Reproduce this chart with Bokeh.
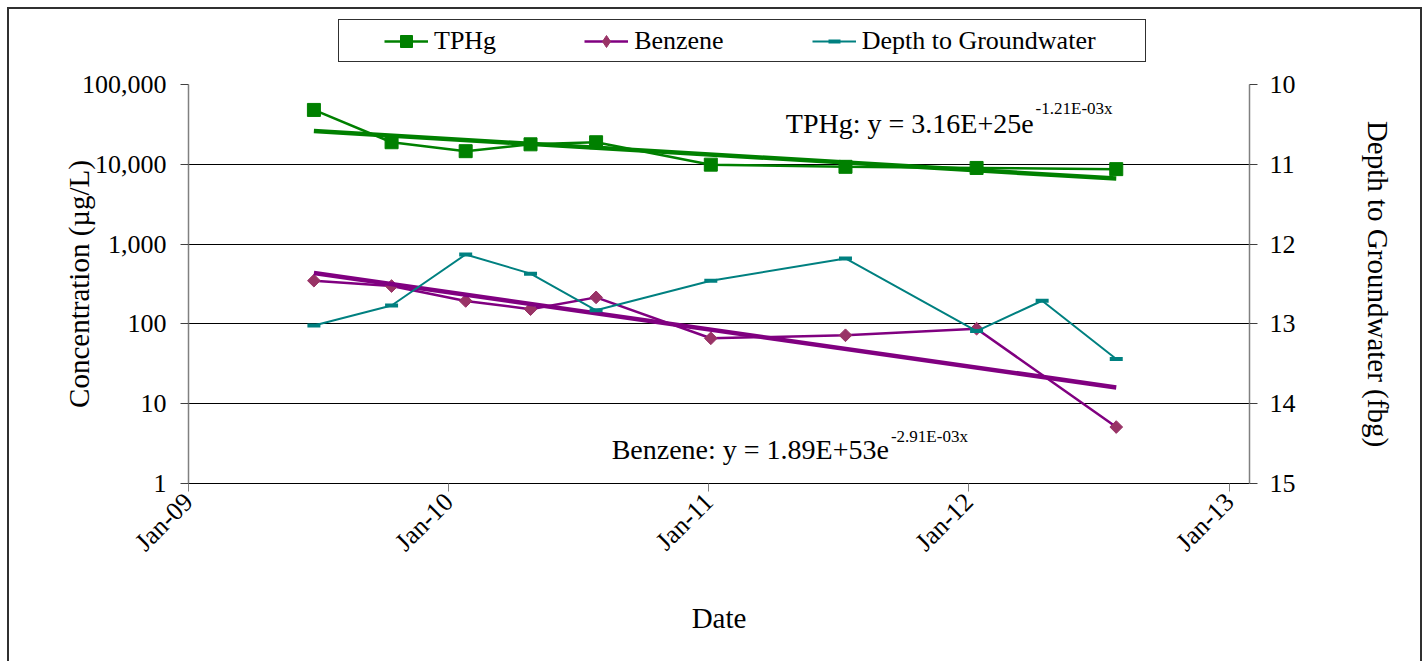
import math
import pandas as pd
from bokeh.plotting import figure
from bokeh.layouts import column
from bokeh.models import (Range1d, LinearAxis, LinearScale, FixedTicker, NumeralTickFormatter,
                          DatetimeTickFormatter, Legend, LegendItem, Label)
from bokeh.embed import file_html
from bokeh.resources import INLINE

# ---------------- data ----------------
sample_dates = ["2009-06-26", "2009-10-13", "2010-01-25", "2010-04-26", "2010-07-27",
                "2011-01-04", "2011-07-12", "2012-01-12", "2012-07-26"]
tphg = [48000, 18900, 14600, 17800, 18900, 9900, 9300, 9000, 8700]
benzene = [348, 298, 194, 153, 215, 66, 72, 87, 5.1]

depth_dates = ["2009-06-26", "2009-10-13", "2010-01-25", "2010-04-26", "2010-07-27",
               "2011-01-04", "2011-07-12", "2012-01-12", "2012-04-13", "2012-07-26"]
depth = [13.02, 12.77, 12.13, 12.37, 12.83, 12.46, 12.18, 13.09, 12.71, 13.44]

trend_dates = ["2009-06-26", "2012-07-26"]
tphg_trend = [26100, 6620]
benzene_trend = [434, 16.0]

conc_ticks = [1, 10, 100, 1000, 10000, 100000]
depth_ticks = [10, 11, 12, 13, 14, 15]
date_ticks = ["2009-01-01", "2010-01-01", "2011-01-01", "2012-01-01", "2013-01-01"]
x_start, x_end = "2009-01-01", "2013-01-29"

tphg_eq = ("TPHg: y = 3.16E+25e", "-1.21E-03x")
benzene_eq = ("Benzene: y = 1.89E+53e", "-2.91E-03x")
legend_labels = ["TPHg", "Benzene", "Depth to Groundwater"]

# ---------------- helpers ----------------
sd = pd.to_datetime(sample_dates)
dd = pd.to_datetime(depth_dates)
td = pd.to_datetime(trend_dates)
def ms(s):
    return pd.Timestamp(s).value / 1e6

FONT = "Liberation Serif"
GREEN = "#008000"
PURPLE = "#800080"
MAROON = "#993366"
TEAL = "#008080"

W, H = 1422, 661
TOP_H = 62          # height of the legend strip
FRAME_TOP, FRAME_BOTTOM, FRAME_LEFT, FRAME_RIGHT = 84, 483, 188, 1249

top_css = """
:host::before {
  content: ""; position: absolute; left: 7px; top: 7px; right: 0px; bottom: 0px;
  border: 2px solid #303030; border-bottom: none; pointer-events: none; z-index: 10;
}
:host::after {
  content: ""; position: absolute; left: 338px; top: 19px; width: 808px; height: 43px;
  box-sizing: border-box; border: 1.3px solid #303030; pointer-events: none; z-index: 10;
}
"""
main_css = """
:host::before {
  content: ""; position: absolute; left: 7px; top: 0px; right: 0px; bottom: 0px;
  border-left: 2px solid #303030; border-right: 2px solid #303030;
  pointer-events: none; z-index: 10;
}
"""

# ---------------- legend strip ----------------
pt = figure(width=W, height=TOP_H, output_backend="svg", toolbar_location=None,
            x_axis_type="datetime", y_axis_type="log",
            x_range=Range1d(ms(x_start), ms(x_end)), y_range=Range1d(1, 100000),
            x_axis_location=None, y_axis_location=None,
            min_border=0, min_border_left=0, min_border_right=0,
            min_border_top=0, min_border_bottom=0)
pt.stylesheets = [top_css]
pt.outline_line_color = None
pt.grid.grid_line_color = None
pt.background_fill_color = "white"
pt.border_fill_color = "white"

lt1 = pt.line(sd, tphg, line_color=GREEN, line_width=2.5, visible=False)
lt2 = pt.scatter(sd, tphg, marker="square", fill_color=GREEN, line_color=GREEN, visible=False)
lb1 = pt.line(sd, benzene, line_color=PURPLE, line_width=2.5, visible=False)
lb2 = pt.scatter(sd, benzene, marker="diamond", fill_color=MAROON, line_color=MAROON,
                 visible=False)
ld1 = pt.line(dd, depth, line_color=TEAL, line_width=2, visible=False)
ld2 = pt.scatter(dd, depth, marker="dash", line_color=TEAL, line_width=4, visible=False)

# the strip's frame is aligned with the main chart's frame (left edge at FRAME_LEFT)
legend = Legend(items=[LegendItem(label=legend_labels[0], renderers=[lt1, lt2]),
                       LegendItem(label=legend_labels[1], renderers=[lb1, lb2]),
                       LegendItem(label=legend_labels[2], renderers=[ld1, ld2])],
                orientation="horizontal", location=(384 - FRAME_LEFT, 6), click_policy="none",
                padding=0, margin=0, spacing=88, glyph_width=44, glyph_height=30,
                label_height=30, label_standoff=6,
                label_text_font=FONT, label_text_font_size="26px",
                label_text_color="black",
                border_line_color=None, background_fill_alpha=0)
pt.add_layout(legend, "center")

# ---------------- main chart ----------------
MH = H - TOP_H
p = figure(width=W, height=MH, output_backend="svg", toolbar_location=None,
           x_axis_type="datetime", y_axis_type="log",
           x_range=Range1d(ms(x_start), ms(x_end)),
           y_range=Range1d(1, 100000),
           min_border_left=FRAME_LEFT, min_border_right=W - FRAME_RIGHT,
           min_border_top=FRAME_TOP - TOP_H, min_border_bottom=H - FRAME_BOTTOM)
p.stylesheets = [main_css]
p.extra_y_ranges = {"depth": Range1d(start=15, end=10)}
p.extra_y_scales = {"depth": LinearScale()}
p.outline_line_color = None
p.background_fill_color = "white"
p.border_fill_color = "white"

p.xgrid.grid_line_color = None
p.ygrid.grid_line_color = "black"
p.ygrid.grid_line_width = 1
p.ygrid.ticker = FixedTicker(ticks=conc_ticks)

def style_axis(ax):
    ax.major_tick_out = 8
    ax.major_tick_in = 0
    ax.minor_tick_line_color = None
    ax.major_label_text_font = FONT
    ax.major_label_text_font_size = "26px"
    ax.major_label_text_color = "black"
    ax.axis_label_text_font = FONT
    ax.axis_label_text_font_size = "29px"
    ax.axis_label_text_font_style = "normal"
    ax.axis_label_text_color = "black"

ya = p.yaxis[0]
style_axis(ya)
ya.ticker = FixedTicker(ticks=conc_ticks)
ya.formatter = NumeralTickFormatter(format="0,0")
ya.axis_line_color = "#808080"
ya.axis_line_width = 1.5
ya.major_tick_line_color = "#404040"
ya.major_label_standoff = 14
ya.axis_label = "Concentration (µg/L)"
ya.axis_label_standoff = -16

xa = p.xaxis[0]
style_axis(xa)
xa.ticker = FixedTicker(ticks=[ms(d) for d in date_ticks])
xa.formatter = DatetimeTickFormatter(days="%b-%y", months="%b-%y", years="%b-%y")
xa.axis_line_color = "black"
xa.axis_line_width = 1
xa.major_tick_line_color = "#808080"
xa.major_label_orientation = math.pi / 4
xa.major_label_standoff = 6
xa.axis_label = "Date"
xa.axis_label_standoff = 32

ra = LinearAxis(y_range_name="depth", ticker=FixedTicker(ticks=depth_ticks))
style_axis(ra)
ra.axis_line_color = "#808080"
ra.axis_line_width = 1.5
ra.major_tick_line_color = "#404040"
ra.major_label_standoff = 12
ra.axis_label = "Depth to Groundwater (fbg)"
ra.axis_label_standoff = 63
p.add_layout(ra, "right")

p.line(sd, tphg, line_color=GREEN, line_width=2.5)
p.scatter(sd, tphg, marker="square", size=13, fill_color=GREEN, line_color=GREEN)
p.line(td, tphg_trend, line_color=GREEN, line_width=4.5)

p.line(sd, benzene, line_color=PURPLE, line_width=2.5)
p.scatter(sd, benzene, marker="square", angle=math.pi / 4, size=9,
          fill_color=MAROON, line_color=MAROON)
p.line(td, benzene_trend, line_color=PURPLE, line_width=4.5)

p.line(dd, depth, line_color=TEAL, line_width=2, y_range_name="depth")
p.scatter(dd, depth, marker="dash", size=13, line_color=TEAL, line_width=4,
          y_range_name="depth")

for (base, sup), xd, yb, ys in [(tphg_eq, "2012-04-01", 32500, 49400),
                                (benzene_eq, "2011-09-11", 2.66, 3.87)]:
    p.add_layout(Label(x=ms(xd), y=yb, text=base, text_align="right",
                       text_baseline="alphabetic", text_font=FONT,
                       text_font_size="28px", text_color="black"))
    p.add_layout(Label(x=ms(xd), y=ys, x_offset=2, text=sup, text_align="left",
                       text_baseline="alphabetic", text_font=FONT,
                       text_font_size="17px", text_color="black"))

layout = column(pt, p, spacing=0)
open("out.html", "w").write(file_html(layout, INLINE))
